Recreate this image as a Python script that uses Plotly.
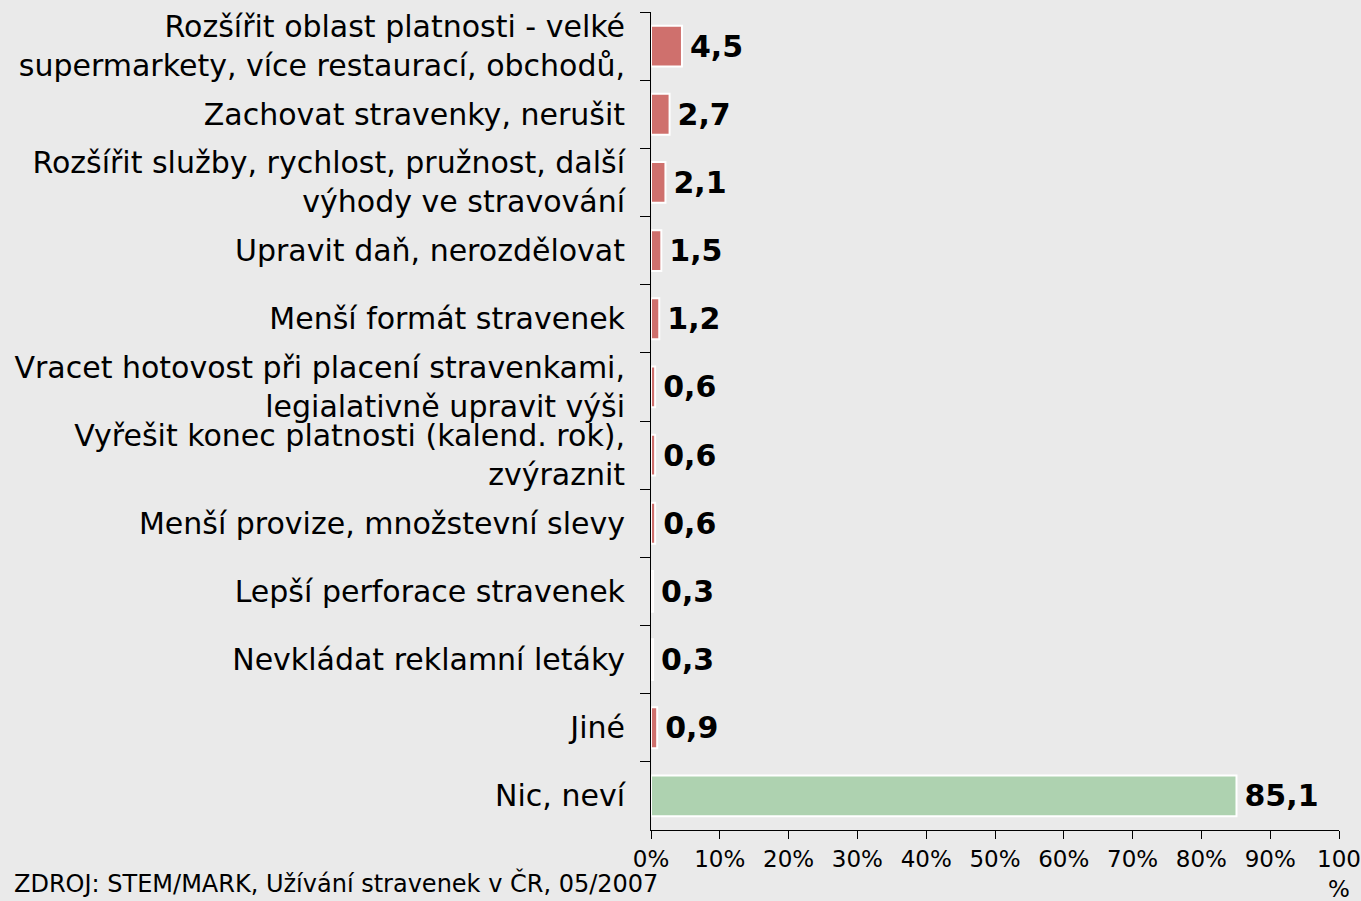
import plotly.graph_objects as go

categories = [
    "Rozšířit oblast platnosti - velké<br>supermarkety, více restaurací, obchodů,",
    "Zachovat stravenky, nerušit",
    "Rozšířit služby, rychlost, pružnost, další<br>výhody ve stravování",
    "Upravit daň, nerozdělovat",
    "Menší formát stravenek",
    "Vracet hotovost při placení stravenkami,<br>legialativně upravit výši",
    "Vyřešit konec platnosti (kalend. rok),<br>zvýraznit",
    "Menší provize, množstevní slevy",
    "Lepší perforace stravenek",
    "Nevkládat reklamní letáky",
    "Jiné",
    "Nic, neví",
]
values = [4.5, 2.7, 2.1, 1.5, 1.2, 0.6, 0.6, 0.6, 0.3, 0.3, 0.9, 85.1]
bar_colors = ["#CF706D"] * 11 + ["#AED2B0"]
tick_vals = [0, 10, 20, 30, 40, 50, 60, 70, 80, 90, 100]
tick_text = ["0%", "10%", "20%", "30%", "40%", "50%", "60%", "70%", "80%", "90%", "100<br>%"]
source_note = "ZDROJ: STEM/MARK, Užívání stravenek v ČR, 05/2007"

fig = go.Figure(
    go.Bar(
        y=categories,
        x=values,
        orientation="h",
        marker=dict(color=bar_colors, line=dict(color="white", width=2)),
        text=["\u2006" + f"{v:.1f}".replace(".", ",") for v in values],
        textposition="outside",
        textfont=dict(family="DejaVu Sans", size=30, color="black", weight="bold"),
        cliponaxis=False,
    )
)

fig.update_layout(
    width=1361,
    height=901,
    margin=dict(l=651, r=22, t=12, b=71, autoexpand=False),
    paper_bgcolor="#EAEAEA",
    plot_bgcolor="#EAEAEA",
    bargap=0.4,
    showlegend=False,
    font=dict(family="DejaVu Sans", color="black"),
)

fig.update_xaxes(
    range=[0, 100],
    tickvals=tick_vals,
    ticktext=tick_text,
    tickfont=dict(size=23),
    showgrid=False,
    zeroline=False,
    showline=True,
    linecolor="black",
    linewidth=1,
    ticks="outside",
    ticklen=8,
    tickcolor="black",
    ticklabelstandoff=0,
    ticklabeloverflow="allow",
    automargin=False,
)

fig.update_yaxes(
    autorange="reversed",
    tickfont=dict(size=30),
    showgrid=False,
    showline=True,
    linecolor="black",
    linewidth=1,
    ticks="outside",
    tickson="boundaries",
    ticklen=10,
    tickcolor="black",
    ticklabelstandoff=19,
    automargin=False,
)

fig.add_annotation(
    text=source_note,
    xref="paper", yref="paper",
    x=-0.9288, y=-0.0445,
    xanchor="left", yanchor="top",
    showarrow=False,
    font=dict(size=24, color="black"),
)

fig.write_html(
    "out.html",
    config={"displayModeBar": False},
    post_script="document.body.style.margin='0';",
)
